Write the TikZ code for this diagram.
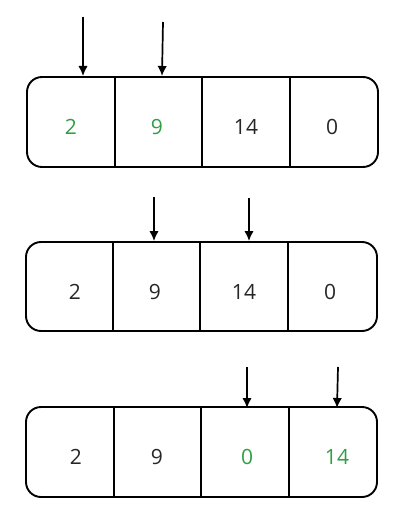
\documentclass[tikz,border=0pt]{standalone}
\usepackage{fontspec}
\setmainfont{Open Sans}
\usetikzlibrary{arrows.meta}
\definecolor{hitgreen}{RGB}{47,158,68}
\tikzset{
  val/.style={font=\fontsize{21}{25}\selectfont, text=black!85},
  hitval/.style={val, text=hitgreen},
  ptr/.style={line width=1.7pt, -{Latex[length=10pt,width=9.5pt]}},
  row/.style={line width=1.9pt, rounded corners=15pt},
  bar/.style={line width=1.9pt},
}
\begin{document}
\begin{tikzpicture}[x=1pt,y=-1pt]
  \useasboundingbox (0,0) rectangle (400,532);

  %% array 1
  \draw[row] (27,77) rectangle (378,167);
  \draw[bar] (115,77) -- (115,167);
  \draw[bar] (202,77) -- (202,167);
  \draw[bar] (290,77) -- (290,167);
  \node[hitval] (a1) at (71,127) {2};
  \node[hitval] (a2) at (157,127) {9};
  \node[val] (a3) at (246,127) {14};
  \node[val] (a4) at (332,127) {0};

  \coordinate (p1s) at (83,17);
  \coordinate (p1e) at (83,76);
  \coordinate (q1s) at (163,22);
  \coordinate (q1e) at (162,76);
  \draw[ptr] (p1s) -- (p1e);
  \draw[ptr] (q1s) -- (q1e);

  %% array 2
  \draw[row] (26,242) rectangle (377,331);
  \draw[bar] (113,242) -- (113,331);
  \draw[bar] (200,242) -- (200,331);
  \draw[bar] (288,242) -- (288,331);
  \node[val] (b1) at (75,292) {2};
  \node[val] (b2) at (155,292) {9};
  \node[val] (b3) at (244,292) {14};
  \node[val] (b4) at (330,292) {0};

  \coordinate (p2s) at (154,197);
  \coordinate (p2e) at (154,241);
  \coordinate (q2s) at (249,198);
  \coordinate (q2e) at (249,241);
  \draw[ptr] (p2s) -- (p2e);
  \draw[ptr] (q2s) -- (q2e);

  %% array 3
  \draw[row] (26,407) rectangle (377,497);
  \draw[bar] (114,407) -- (114,497);
  \draw[bar] (201,407) -- (201,497);
  \draw[bar] (289,407) -- (289,497);
  \node[val] (c1) at (76,457) {2};
  \node[val] (c2) at (157,457) {9};
  \node[hitval] (c3) at (247,457) {0};
  \node[hitval] (c4) at (337,457) {14};

  \coordinate (p3s) at (247,367);
  \coordinate (p3e) at (247,408);
  \coordinate (q3s) at (338,367);
  \coordinate (q3e) at (337,408);
  \draw[ptr] (p3s) -- (p3e);
  \draw[ptr] (q3s) -- (q3e);

\end{tikzpicture}
\end{document}
